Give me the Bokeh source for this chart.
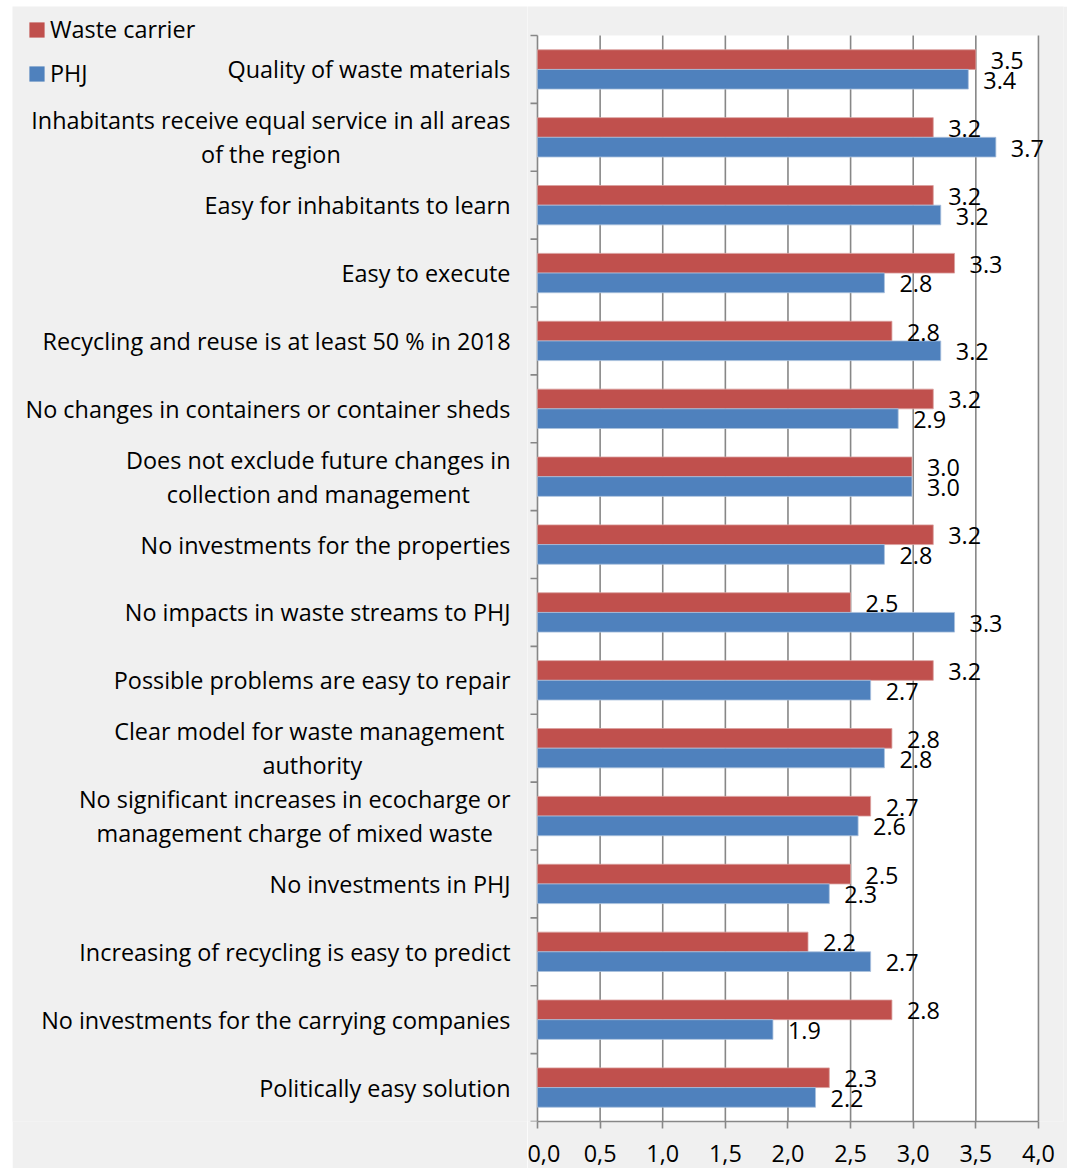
from bokeh.plotting import figure
from bokeh.models import (Range1d, FixedTicker, CustomJSTickFormatter, ColumnDataSource,
                          LabelSet, Legend, LegendItem, BoxAnnotation, Spacer)
from bokeh.layouts import row, column
from bokeh.embed import file_html
from bokeh.resources import INLINE
from bokeh.core.properties import value

# ---------------- data ----------------
categories = [
    "Quality of waste materials",
    "Inhabitants receive equal service in all areas\nof the region",
    "Easy for inhabitants to learn",
    "Easy to execute",
    "Recycling and reuse is at least 50 % in 2018",
    "No changes in containers or container sheds",
    "Does not exclude future changes in\ncollection and management",
    "No investments for the properties",
    "No impacts in waste streams to PHJ",
    "Possible problems are easy to repair",
    "Clear model for  waste management\nauthority",
    "No significant increases in ecocharge or\nmanagement charge of mixed waste",
    "No investments in PHJ",
    "Increasing of recycling is easy to predict",
    "No investments for the carrying companies",
    "Politically easy solution",
]
waste_carrier = [3.50, 3.16, 3.16, 3.33, 2.83, 3.16, 2.99, 3.16, 2.50, 3.16, 2.83, 2.66, 2.50, 2.16, 2.83, 2.33]
phj = [3.44, 3.66, 3.22, 2.77, 3.22, 2.88, 2.99, 2.77, 3.33, 2.66, 2.77, 2.56, 2.33, 2.66, 1.88, 2.22]
series_names = ["Waste carrier", "PHJ"]
x_ticks = [0.0, 0.5, 1.0, 1.5, 2.0, 2.5, 3.0, 3.5, 4.0]
x_max = 4.0

# ---------------- styles ----------------
RED = "#C0504D"
BLUE = "#4F81BD"
GRID = "#878787"
BG = "#F0F0F0"
FONT = "Open Sans"
FS = "23.4px"

N = len(categories)
OUT_LEFT = 12              # white page strip left of the chart area
OUT_TOP = 6                # white page strip above the chart area
TOP_PAD = 29               # gray strip above the plot area (inside frame)
PLOT_H = 1086              # height of the white plot area
FRAME_H = TOP_PAD + PLOT_H
BOTTOM = 47
PX_PER_CAT = PLOT_H / N
BAR_H = 0.29
LBL_W = 515
PX_PER_UNIT = 125.25
LEFT_PAD = 10              # gray strip left of 0 (holds the category tick marks)
TICK_LEN = 7
RIGHT_EXTRA = 0.2          # gray margin inside frame, right of 4.0
RIGHT_B = 4
x_start = -LEFT_PAD / PX_PER_UNIT
frame_w = int(round(PX_PER_UNIT * (x_max + RIGHT_EXTRA - x_start)))
y_lo, y_hi = -0.5, N - 0.5

idx = list(range(N))
y_red = [i - BAR_H / 2 for i in idx]
y_blue = [i + BAR_H / 2 for i in idx]
cat_bounds = [i - 0.5 for i in range(N + 1)]

yr = Range1d(y_hi, y_lo - TOP_PAD / PX_PER_CAT)

# ---------------- main chart ----------------
p = figure(width=frame_w + RIGHT_B, height=FRAME_H + BOTTOM,
           x_range=Range1d(x_start, x_max + RIGHT_EXTRA), y_range=yr,
           y_axis_location=None,
           output_backend="svg", toolbar_location=None,
           min_border_left=0, min_border_right=RIGHT_B,
           min_border_top=0, min_border_bottom=BOTTOM,
           background_fill_color=BG, border_fill_color=BG,
           outline_line_color=None)

# white plot area
p.add_layout(BoxAnnotation(left=0, right=x_max, top=y_lo, bottom=y_hi,
                           fill_color="white", fill_alpha=1,
                           line_color=None, level="image"))

# vertical gridlines limited to the plot area (the one at 0 is the value axis line)
p.xgrid.visible = False
p.ygrid.visible = False
p.segment(x0=x_ticks, x1=x_ticks, y0=[y_lo] * len(x_ticks), y1=[y_hi] * len(x_ticks),
          line_color=GRID, line_width=1.6, level="underlay")

# category tick marks at the category boundaries
p.segment(x0=[-TICK_LEN / PX_PER_UNIT] * len(cat_bounds), x1=[0] * len(cat_bounds),
          y0=cat_bounds, y1=cat_bounds, line_color=GRID, line_width=1.6)

src_red = ColumnDataSource(dict(y=y_red, v=waste_carrier,
                                lab=[f"{v:.1f}" for v in waste_carrier]))
src_blue = ColumnDataSource(dict(y=y_blue, v=phj,
                                 lab=[f"{v:.1f}" for v in phj]))

p.hbar(y="y", left=0, right="v", height=BAR_H, source=src_red,
       fill_color=RED, line_color="#D9A09E", line_width=0.8)
p.hbar(y="y", left=0, right="v", height=BAR_H, source=src_blue,
       fill_color=BLUE, line_color="#A9C0DD", line_width=0.8)

for src in (src_red, src_blue):
    p.add_layout(LabelSet(x="v", y="y", text="lab", source=src,
                          x_offset=15, y_offset=-1, text_align="left",
                          text_baseline="middle", text_font=value(FONT),
                          text_font_size=FS, text_color="black"))

# x axis
xa = p.xaxis[0]
xa.ticker = FixedTicker(ticks=x_ticks)
xa.bounds = (0, x_max)
xa.formatter = CustomJSTickFormatter(code="return tick.toFixed(1).replace('.', ',');")
xa.axis_line_color = GRID
xa.axis_line_width = 1.6
xa.major_tick_line_color = GRID
xa.major_tick_line_width = 1.6
xa.major_tick_out = TICK_LEN
xa.major_tick_in = 0
xa.minor_tick_line_color = None
xa.major_label_text_font = FONT
xa.major_label_text_font_size = FS
xa.major_label_text_color = "black"
xa.major_label_standoff = 16

# ---------------- category labels + legend panel ----------------
lp = figure(width=LBL_W, height=FRAME_H + BOTTOM,
            x_range=Range1d(0, 1), y_range=yr,
            x_axis_location=None, y_axis_location=None,
            output_backend="svg", toolbar_location=None,
            min_border_left=0, min_border_right=0,
            min_border_top=0, min_border_bottom=BOTTOM,
            background_fill_color=BG, border_fill_color=BG,
            outline_line_color=None)
lp.grid.visible = False

lab_src = ColumnDataSource(dict(x=[1] * N, y=idx, t=categories))
lp.text(x="x", y="y", text="t", source=lab_src, x_offset=-17,
        anchor=value("center_right"), text_align="center",
        text_baseline="middle", text_font=value(FONT),
        text_font_size=FS, text_color="black", text_line_height=1.06)

# legend proxies: zero-width bars (not visible in the panel)
r_red = lp.hbar(y=[0], left=[0], right=[0], height=0.3, fill_color=RED, line_color=None)
r_blue = lp.hbar(y=[0], left=[0], right=[0], height=0.3, fill_color=BLUE, line_color=None)
legend = Legend(items=[LegendItem(label=series_names[0], renderers=[r_red]),
                       LegendItem(label=series_names[1], renderers=[r_blue])],
                location=(15, FRAME_H - 83), orientation="vertical",
                glyph_width=19, glyph_height=19, label_standoff=4,
                label_height=30, spacing=12, padding=0, margin=0,
                label_text_font=FONT, label_text_font_size=FS,
                label_text_color="black",
                border_line_color=None, background_fill_alpha=0)
lp.add_layout(legend)

layout = column(Spacer(height=OUT_TOP, width=10),
                row(Spacer(width=OUT_LEFT, height=10), lp, p))
open("out.html", "w").write(file_html(layout, INLINE))
